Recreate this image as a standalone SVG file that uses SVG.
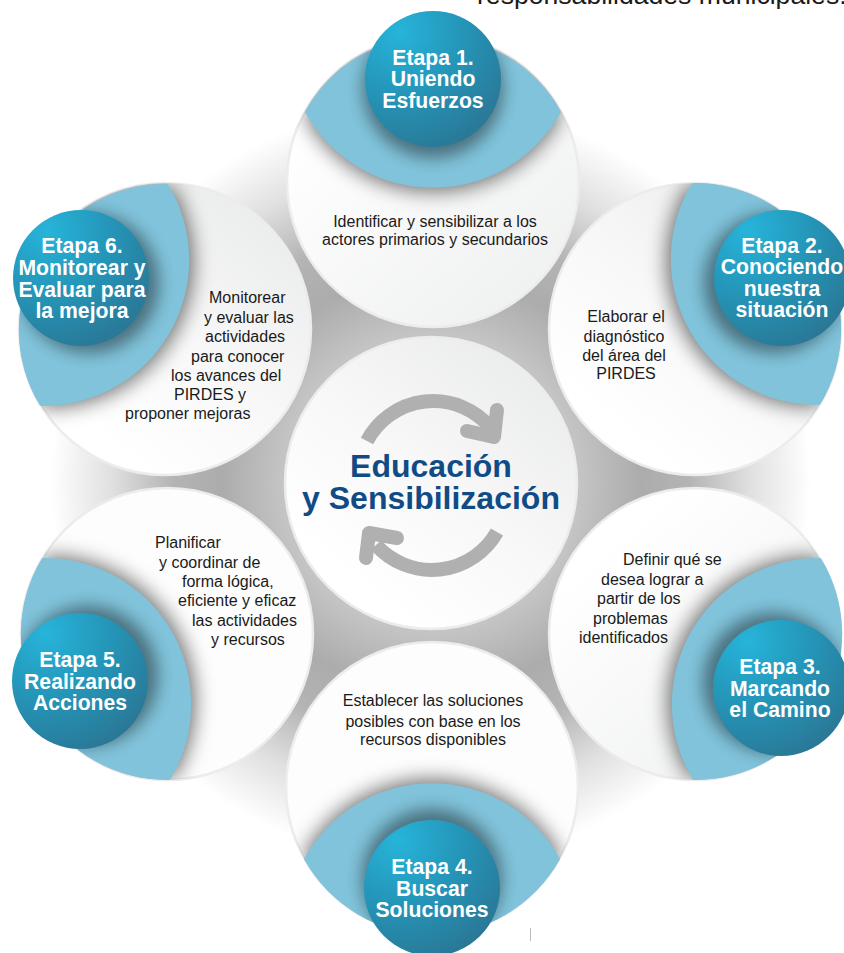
<svg xmlns="http://www.w3.org/2000/svg" width="844" height="953" viewBox="0 0 844 953">
<defs>
<radialGradient id="bgG" gradientUnits="userSpaceOnUse" cx="431" cy="483" r="380"><stop offset="0.38" stop-color="#c6c6c6"/><stop offset="0.55" stop-color="#acacac"/><stop offset="0.68" stop-color="#b4b4b4"/><stop offset="0.84" stop-color="#e0e0e0"/><stop offset="1" stop-color="#ffffff"/></radialGradient>
<linearGradient id="disc" x1="0.85" y1="0.1" x2="0.25" y2="0.85"><stop offset="0" stop-color="#ebecec"/><stop offset="0.55" stop-color="#f8f8f8"/><stop offset="1" stop-color="#ffffff"/></linearGradient>
<linearGradient id="discB" x1="0.2" y1="0.2" x2="0.8" y2="0.9"><stop offset="0" stop-color="#ffffff"/><stop offset="1" stop-color="#f0f1f1"/></linearGradient>
<radialGradient id="ball" cx="0.25" cy="0.15" r="0.95"><stop offset="0" stop-color="#27b4da"/><stop offset="0.45" stop-color="#2498bb"/><stop offset="1" stop-color="#2a7694"/></radialGradient>
<filter id="sh" x="-30%" y="-30%" width="160%" height="160%"><feGaussianBlur stdDeviation="10"/></filter>
<filter id="sh2" x="-30%" y="-30%" width="160%" height="160%"><feGaussianBlur stdDeviation="8"/></filter>
<path id="blob" d="M-128,0 A146,146 0 0 1 128,0 A146,146 0 0 1 -128,0 Z"/>
<clipPath id="c1"><circle cx="433" cy="181" r="146"/></clipPath>
<clipPath id="c2"><circle cx="695" cy="329" r="146"/></clipPath>
<clipPath id="c3"><circle cx="695" cy="634" r="146"/></clipPath>
<clipPath id="c4"><circle cx="432" cy="788" r="146"/></clipPath>
<clipPath id="c5"><circle cx="167" cy="634" r="146"/></clipPath>
<clipPath id="c6"><circle cx="165" cy="329" r="146"/></clipPath>
<clipPath id="l1"><use href="#blob" transform="translate(433,112)"/></clipPath>
<clipPath id="l2"><use href="#blob" transform="translate(756,294) rotate(60)"/></clipPath>
<clipPath id="l3"><use href="#blob" transform="translate(757,669) rotate(120)"/></clipPath>
<clipPath id="l4"><use href="#blob" transform="translate(432,859) rotate(180)"/></clipPath>
<clipPath id="l5"><use href="#blob" transform="translate(106,669) rotate(240)"/></clipPath>
<clipPath id="l6"><use href="#blob" transform="translate(104,295) rotate(300)"/></clipPath>
</defs>
<style>
.lbl{font-family:"Liberation Sans",Arial,sans-serif;font-size:16px;fill:#1a1a1a}
.mid{text-anchor:middle}
.st{font-family:"Liberation Sans",Arial,sans-serif;font-size:21.2px;font-weight:700;fill:#fff;text-anchor:middle}
.ttl{font-family:"Liberation Sans",Arial,sans-serif;font-size:32px;font-weight:700;fill:#114b85;text-anchor:middle}
.lens{fill:#80c3da}
.lensS{fill:#000;opacity:.55;filter:url(#sh)}
.ballS{fill:#000;opacity:.42;filter:url(#sh2)}
.ring{stroke:#ececec;stroke-width:2.5}
.arr{fill:none;stroke:#b0b0b0;stroke-width:14}
.ah{fill:none;stroke:#b0b0b0;stroke-width:14;stroke-linecap:round;stroke-linejoin:round}
</style>
<rect width="844" height="953" fill="#fff"/>
<text x="477" y="4" font-family="'Liberation Sans',Arial,sans-serif" font-size="26.6" fill="#1a1a1a">responsabilidades municipales.</text>
<circle cx="431" cy="483" r="380" fill="url(#bgG)"/>
<g id="etapa1"><circle cx="433" cy="181" r="146" fill="url(#discB)" class="ring"/><g clip-path="url(#c1)"><use href="#blob" transform="translate(433,116)" class="lensS"/></g><use href="#blob" transform="translate(433,112)" class="lens"/><g clip-path="url(#l1)"><circle cx="433" cy="88" r="70" class="ballS"/></g><circle cx="433" cy="79" r="68" fill="url(#ball)"/>
<text class="st" x="433" y="65">Etapa 1.</text><text class="st" x="433" y="86">Uniendo</text><text class="st" x="433" y="108">Esfuerzos</text>
<text class="lbl mid" x="435" y="227">Identificar y sensibilizar a los</text><text class="lbl mid" x="435" y="245">actores primarios y secundarios</text></g>
<g id="etapa2"><circle cx="695" cy="329" r="146" fill="url(#disc)" class="ring"/><g clip-path="url(#c2)"><use href="#blob" transform="translate(752,296) rotate(60)" class="lensS"/></g><use href="#blob" transform="translate(756,294) rotate(60)" class="lens"/><g clip-path="url(#l2)"><circle cx="774" cy="283" r="70" class="ballS"/></g><circle cx="782" cy="278" r="68" fill="url(#ball)"/>
<text class="st" x="782" y="253">Etapa 2.</text><text class="st" x="782" y="274">Conociendo</text><text class="st" x="782" y="296">nuestra</text><text class="st" x="782" y="317">situación</text>
<text class="lbl mid" x="626" y="322">Elaborar el</text><text class="lbl mid" x="624" y="342">diagnóstico</text><text class="lbl mid" x="624" y="361">del área del</text><text class="lbl mid" x="626" y="379">PIRDES</text></g>
<g id="etapa3"><circle cx="695" cy="634" r="146" fill="url(#discB)" class="ring"/><g clip-path="url(#c3)"><use href="#blob" transform="translate(753,667) rotate(120)" class="lensS"/></g><use href="#blob" transform="translate(757,669) rotate(120)" class="lens"/><g clip-path="url(#l3)"><circle cx="773" cy="683" r="70" class="ballS"/></g><circle cx="781" cy="688" r="68" fill="url(#ball)"/>
<text class="st" x="780" y="674">Etapa 3.</text><text class="st" x="780" y="696">Marcando</text><text class="st" x="780" y="717">el Camino</text>
<text class="lbl" x="623" y="565">Definir qué se</text><text class="lbl" x="601" y="585">desea lograr a</text><text class="lbl" x="597" y="604">partir de los</text><text class="lbl" x="593" y="624">problemas</text><text class="lbl" x="579" y="643">identificados</text></g>
<g id="etapa4"><circle cx="432" cy="788" r="146" fill="#fdfdfd" class="ring"/><g clip-path="url(#c4)"><use href="#blob" transform="translate(432,855) rotate(180)" class="lensS"/></g><use href="#blob" transform="translate(432,859) rotate(180)" class="lens"/><g clip-path="url(#l4)"><circle cx="432" cy="879" r="70" class="ballS"/></g><circle cx="432" cy="888" r="68" fill="url(#ball)"/>
<text class="st" x="432" y="874">Etapa 4.</text><text class="st" x="432" y="896">Buscar</text><text class="st" x="432" y="917">Soluciones</text>
<text class="lbl mid" x="433" y="706">Establecer las soluciones</text><text class="lbl mid" x="433" y="727">posibles con base en los</text><text class="lbl mid" x="433" y="745">recursos disponibles</text></g>
<g id="etapa5"><circle cx="167" cy="634" r="146" fill="#fdfdfd" class="ring"/><g clip-path="url(#c5)"><use href="#blob" transform="translate(110,667) rotate(240)" class="lensS"/></g><use href="#blob" transform="translate(106,669) rotate(240)" class="lens"/><g clip-path="url(#l5)"><circle cx="88" cy="676" r="70" class="ballS"/></g><circle cx="80" cy="681" r="68" fill="url(#ball)"/>
<text class="st" x="80" y="667">Etapa 5.</text><text class="st" x="80" y="689">Realizando</text><text class="st" x="80" y="710">Acciones</text>
<text class="lbl" x="155" y="548">Planificar</text><text class="lbl" x="159" y="568">y coordinar de</text><text class="lbl" x="182" y="587">forma lógica,</text><text class="lbl" x="178" y="606">eficiente y eficaz</text><text class="lbl" x="192" y="626">las actividades</text><text class="lbl" x="211" y="645">y recursos</text></g>
<g id="etapa6"><circle cx="165" cy="329" r="146" fill="url(#disc)" class="ring"/><g clip-path="url(#c6)"><use href="#blob" transform="translate(108,297) rotate(300)" class="lensS"/></g><use href="#blob" transform="translate(104,295) rotate(300)" class="lens"/><g clip-path="url(#l6)"><circle cx="89" cy="283" r="70" class="ballS"/></g><circle cx="81" cy="278" r="68" fill="url(#ball)"/>
<text class="st" x="82" y="253">Etapa 6.</text><text class="st" x="82" y="275">Monitorear y</text><text class="st" x="82" y="297">Evaluar para</text><text class="st" x="82" y="318">la mejora</text>
<text class="lbl" x="209" y="303">Monitorear</text><text class="lbl" x="204" y="323">y evaluar las</text><text class="lbl" x="205" y="342">actividades</text><text class="lbl" x="191" y="362">para conocer</text><text class="lbl" x="171" y="381">los avances del</text><text class="lbl" x="174" y="400">PIRDES y</text><text class="lbl" x="125" y="419">proponer mejoras</text></g>
<g id="centro"><circle cx="431" cy="483" r="146" fill="url(#disc)" class="ring"/>
<path class="arr" d="M367,441 A75,75 0 0 1 490,427"/><path class="ah" d="M497,410 L494,437 L467,431"/>
<path class="arr" d="M497,532 A75,75 0 0 1 376,545"/><path class="ah" d="M366,558 L369,533 L397,538"/>
<text class="ttl" x="431" y="477">Educación</text><text class="ttl" x="431" y="509">y Sensibilización</text></g>
<rect x="530" y="928" width="1" height="13" fill="#bbb"/>
</svg>
